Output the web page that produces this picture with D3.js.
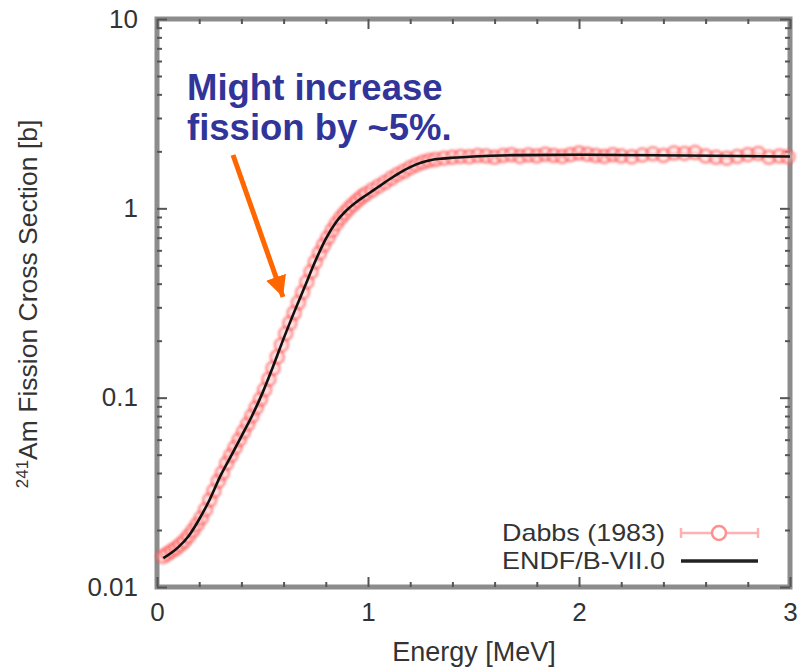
<!DOCTYPE html>
<html>
<head>
<meta charset="utf-8">
<script src="https://cdn.jsdelivr.net/npm/d3@7"></script>
<style>
  body { margin: 0; background: #fff; }
  svg text { font-family: "Liberation Sans", Arial, sans-serif; }
</style>
</head>
<body>
<div id="chart"></div>
<script>
// Dabbs (1983) measurement: energy [MeV] and cross section [b]
const dabbsE = [0.03,0.05,0.07,0.09,0.11,0.13,0.15,0.17,0.19,0.21,0.23,0.25,0.27,0.29,0.31,0.33,0.35,0.37,0.39,0.41,
  0.43,0.45,0.47,0.49,0.51,0.53,0.55,0.57,0.59,0.61,0.63,0.65,0.67,0.69,0.71,0.73,0.75,0.77,0.79,0.81,
  0.83,0.85,0.87,0.89,0.91,0.93,0.95,0.97,0.99,1.02,1.05,1.08,1.11,1.14,1.17,1.20,1.23,1.26,1.29,1.32,
  1.36,1.40,1.44,1.48,1.52,1.56,1.60,1.64,1.68,1.72,1.76,1.80,1.84,1.88,1.92,1.96,2.00,2.04,2.08,2.12,
  2.16,2.20,2.25,2.30,2.35,2.40,2.45,2.50,2.55,2.60,2.65,2.70,2.75,2.80,2.85,2.90,2.95,2.99];
const dabbsS = [0.0145,0.0150,0.0155,0.0160,0.0167,0.0175,0.0186,0.0199,0.0214,0.0232,0.0256,0.0288,0.0322,0.0362,0.0400,0.0450,0.0495,0.0545,0.0600,0.0660,
  0.0725,0.0800,0.0885,0.098,0.110,0.125,0.143,0.164,0.190,0.218,0.248,0.280,0.318,0.360,0.408,0.462,0.520,0.580,0.640,0.700,
  0.765,0.830,0.890,0.945,1.00,1.05,1.10,1.15,1.19,1.25,1.31,1.37,1.44,1.51,1.57,1.64,1.70,1.75,1.79,1.81,
  1.84,1.86,1.88,1.87,1.90,1.89,1.86,1.90,1.92,1.88,1.91,1.89,1.93,1.90,1.88,1.92,1.96,1.93,1.90,1.88,
  1.92,1.89,1.87,1.91,1.94,1.90,1.96,1.95,1.97,1.89,1.86,1.84,1.88,1.92,1.95,1.86,1.89,1.87];

// ENDF/B-VII.0 evaluation
const endfE = [0.03,0.07,0.1,0.15,0.2,0.25,0.3,0.35,0.4,0.45,0.5,0.55,0.6,0.65,0.7,0.75,0.8,0.85,0.9,0.95,
  1.0,1.05,1.1,1.15,1.2,1.25,1.3,1.35,1.4,1.5,1.7,2.0,2.5,3.0];
const endfS = [0.0142,0.0152,0.0162,0.0186,0.0228,0.0290,0.0385,0.049,0.0625,0.080,0.106,0.146,0.205,0.283,0.385,0.525,0.69,0.85,0.98,1.09,
  1.19,1.30,1.42,1.54,1.65,1.74,1.80,1.83,1.85,1.88,1.91,1.92,1.90,1.88];

const xMajor = [0, 1, 2, 3];
const xMinor = [0.2,0.4,0.6,0.8,1.2,1.4,1.6,1.8,2.2,2.4,2.6,2.8];
const yMajor = [0.01, 0.1, 1, 10];
const yMinor = [2,3,4,5,6,7,8,9,20,30,40,50,60,70,80,90,200,300,400,500,600,700,800,900].map(v => v / 100);
const legendNames = ['Dabbs (1983)', 'ENDF/B-VII.0'];
const noteLines = ['Might increase', 'fission by ~5%.'];

const width = 802, height = 669;
const pLeft = 157, pRight = 790, pTop = 19, pBottom = 587;

const svg = d3.select('#chart').append('svg')
  .attr('width', width).attr('height', height);

const defs = svg.append('defs');
defs.append('filter').attr('id', 'soft')
  .append('feGaussianBlur').attr('stdDeviation', 0.9);

const x = d3.scaleLinear().domain([0, 3]).range([pLeft, pRight]);
const y = d3.scaleLog().domain([0.01, 10]).range([pBottom, pTop]);

// frame
svg.append('rect')
  .attr('x', pLeft).attr('y', pTop)
  .attr('width', pRight - pLeft).attr('height', pBottom - pTop)
  .attr('fill', 'none').attr('stroke', '#8c8c8c').attr('stroke-width', 5);

function styleAxis(g) {
  g.select('.domain').remove();
  g.selectAll('.tick line').attr('stroke', '#555').attr('stroke-width', 2);
  g.selectAll('.tick text').attr('fill', '#333').style('font-size', '26px');
}

// x axes (bottom with labels, top mirrored)
svg.append('g').attr('transform', `translate(0,${pBottom})`)
  .call(d3.axisBottom(x).tickValues(xMajor).tickSize(-10).tickPadding(16).tickFormat(d3.format('d')))
  .call(styleAxis);
svg.append('g').attr('transform', `translate(0,${pBottom})`)
  .call(d3.axisBottom(x).tickValues(xMinor).tickSize(-5).tickFormat(''))
  .call(styleAxis);
svg.append('g').attr('transform', `translate(0,${pTop})`)
  .call(d3.axisTop(x).tickValues(xMajor).tickSize(-10).tickFormat(''))
  .call(styleAxis);
svg.append('g').attr('transform', `translate(0,${pTop})`)
  .call(d3.axisTop(x).tickValues(xMinor).tickSize(-5).tickFormat(''))
  .call(styleAxis);

// y axes
svg.append('g').attr('transform', `translate(${pLeft},0)`)
  .call(d3.axisLeft(y).tickValues(yMajor).tickSize(-10).tickPadding(19).tickFormat(d3.format('~g')))
  .call(styleAxis);
svg.append('g').attr('transform', `translate(${pLeft},0)`)
  .call(d3.axisLeft(y).tickValues(yMinor).tickSize(-5).tickFormat(''))
  .call(styleAxis);
svg.append('g').attr('transform', `translate(${pRight},0)`)
  .call(d3.axisRight(y).tickValues(yMajor).tickSize(-10).tickFormat(''))
  .call(styleAxis);
svg.append('g').attr('transform', `translate(${pRight},0)`)
  .call(d3.axisRight(y).tickValues(yMinor).tickSize(-5).tickFormat(''))
  .call(styleAxis);

// axis titles
svg.append('text')
  .attr('x', 474).attr('y', 661)
  .attr('text-anchor', 'middle')
  .attr('fill', '#333')
  .style('font-size', '27px')
  .text('Energy [MeV]');

const yTitle = svg.append('text')
  .attr('transform', 'translate(37,304) rotate(-90)')
  .attr('text-anchor', 'middle')
  .attr('fill', '#333')
  .style('font-size', '26.5px');
yTitle.append('tspan').attr('baseline-shift', 'super').style('font-size', '17px').text('241');
yTitle.append('tspan').text('Am Fission Cross Section [b]');

// data
const dabbs = dabbsE.map((e, i) => ({ e: e, s: dabbsS[i] }));
const endf = endfE.map((e, i) => ({ e: e, s: endfS[i] }));

const plot = svg.append('g');
const band = plot.append('g').attr('filter', 'url(#soft)');

band.selectAll('line.err')
  .data(dabbs).enter().append('line')
  .attr('class', 'err')
  .attr('x1', d => x(d.e - 0.014)).attr('x2', d => x(d.e + 0.014))
  .attr('y1', d => y(d.s)).attr('y2', d => y(d.s))
  .attr('stroke', '#ff7070').attr('stroke-opacity', 0.55).attr('stroke-width', 2);

band.selectAll('circle.pt')
  .data(dabbs).enter().append('circle')
  .attr('class', 'pt')
  .attr('cx', d => x(d.e)).attr('cy', d => y(d.s))
  .attr('r', 6.5)
  .attr('fill', '#ffd0d0').attr('fill-opacity', 0.35)
  .attr('stroke', '#ff5050').attr('stroke-opacity', 0.55).attr('stroke-width', 3);

const line = d3.line().x(d => x(d.e)).y(d => y(d.s)).curve(d3.curveMonotoneX);
plot.append('path')
  .datum(endf)
  .attr('d', line)
  .attr('fill', 'none')
  .attr('stroke', '#111').attr('stroke-width', 2.6);

// legend
const legend = svg.append('g');
legend.selectAll('text')
  .data(legendNames).enter().append('text')
  .attr('x', 665).attr('y', (d, i) => 541 + i * 28)
  .attr('text-anchor', 'end')
  .attr('textLength', 163).attr('lengthAdjust', 'spacingAndGlyphs')
  .attr('fill', '#333')
  .style('font-size', '24px')
  .text(d => d);
legend.append('line')
  .attr('x1', 681).attr('x2', 758).attr('y1', 533).attr('y2', 533)
  .attr('stroke', '#ffb0b0').attr('stroke-width', 2.5);
legend.selectAll('line.cap')
  .data([681, 758]).enter().append('line')
  .attr('class', 'cap')
  .attr('x1', d => d).attr('x2', d => d).attr('y1', 528).attr('y2', 538)
  .attr('stroke', '#ffb0b0').attr('stroke-width', 2.5);
legend.append('circle')
  .attr('cx', 719).attr('cy', 533).attr('r', 7)
  .attr('fill', '#fff').attr('stroke', '#ff9090').attr('stroke-width', 2.5);
legend.append('line')
  .attr('x1', 681).attr('x2', 758).attr('y1', 561).attr('y2', 561)
  .attr('stroke', '#222').attr('stroke-width', 3.5);

// annotation
svg.selectAll('text.note')
  .data(noteLines).enter().append('text')
  .attr('class', 'note')
  .attr('x', 187).attr('y', (d, i) => 100 + i * 40)
  .attr('fill', '#31359a')
  .style('font-size', '36.5px').style('font-weight', 'bold')
  .text(d => d);

defs.append('marker')
  .attr('id', 'head')
  .attr('viewBox', '0 0 10 10')
  .attr('refX', 10).attr('refY', 5)
  .attr('markerWidth', 4.2).attr('markerHeight', 4.2)
  .attr('markerUnits', 'strokeWidth')
  .attr('orient', 'auto')
  .append('path').attr('d', 'M0,0L10,5L0,10Z').attr('fill', '#ff6600');

svg.append('line')
  .attr('x1', 233).attr('y1', 155)
  .attr('x2', 283).attr('y2', 297)
  .attr('stroke', '#ff6600').attr('stroke-width', 5)
  .attr('marker-end', 'url(#head)');
</script>
</body>
</html>
